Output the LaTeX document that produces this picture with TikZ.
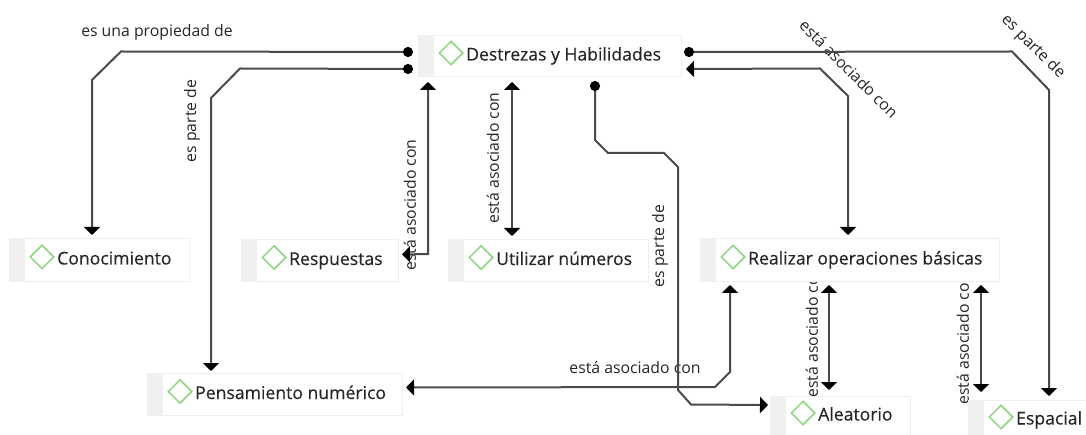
\documentclass[tikz,border=0pt]{standalone}
\usepackage{fontspec}
\setmainfont{Open Sans}
\newfontfamily\conceptfont[FakeBold=0.3]{Open Sans}
\usetikzlibrary{arrows.meta,calc,shapes.geometric}
\definecolor{conceptgreen}{HTML}{8FD47F}
\definecolor{stripgray}{HTML}{F0F0F0}
\definecolor{boxline}{HTML}{EFEFEF}
\definecolor{linkgray}{HTML}{4A4A4A}
\tikzset{
    conceptbox/.style={draw=boxline, fill=white, line width=1pt, anchor=north west, inner sep=0pt},
    conceptkite/.style={diamond, draw=conceptgreen, line width=1.5pt, minimum size=24pt, inner sep=0pt},
    conceptlabel/.style={anchor=west, inner sep=0pt, text height=12pt, text depth=4pt, text=black!85, font=\conceptfont\fontsize{17.6}{20}\selectfont},
    linklabel/.style={inner sep=0pt, text=black!85, font=\fontsize{15.8}{18}\selectfont},
    twoway/.style={draw=linkgray, line width=2pt, {Triangle[width=16pt,length=8pt,color=black]}-{Triangle[width=16pt,length=8pt,color=black]}},
    oneway/.style={draw=linkgray, line width=2pt, {Circle[length=10pt,color=black]}-{Triangle[width=16pt,length=8pt,color=black]}}
}
\begin{document}
\begin{tikzpicture}[x=1pt, y=-1pt]
    \useasboundingbox (0, 0) rectangle (1086, 435);
    % link labels go first, the boxes cover their ends
    \node [linklabel] (lblconocimiento) at (157, 32) {es una propiedad de};
    \node [linklabel, rotate=90] (lblpensamiento) at (192, 121) {es parte de};
    \node [linklabel, rotate=90] (lblrespuestas) at (410, 205) {está asociado con};
    \node [linklabel, rotate=90] (lblutilizar) at (493, 158) {está asociado con};
    \node [linklabel, rotate=90] (lblaleatorio) at (660, 246) {es parte de};
    \node [linklabel, rotate=-45] (lblrealizar) at (849, 69) {está asociado con};
    \node [linklabel, rotate=-45] (lblespacial) at (1033, 47) {es parte de};
    \node [linklabel] (lblnumerico) at (635, 368) {está asociado con};
    \node [linklabel, rotate=90] (lblaleatorioreal) at (812, 332) {está asociado con};
    \node [linklabel, rotate=90] (lblespacialreal) at (963, 339) {está asociado con};
    % boxes
    \foreach \name/\x/\y/\w/\h/\txt in {
        destrezas/418/35/263/41/Destrezas y Habilidades,
        conocimiento/9/238/180/43/Conocimiento,
        respuestas/241/239/157/42/Respuestas,
        utilizar/448/239/200/42/Utilizar números,
        realizar/700/238/299/43/Realizar operaciones básicas,
        pensamiento/147/373/255/42/Pensamiento numérico,
        aleatorio/770/396/140/39/Aleatorio,
        espacial/968/400/118/39/Espacial}{
            \node [conceptbox, minimum width=\w, minimum height=\h] (\name) at (\x, \y) {};
            \fill [stripgray] (\x, \y) rectangle (\x+16, \y+\h);
            \node [conceptkite] (\name kite) at ($(\name.west)+(33, -3)$) {};
            \node [conceptlabel] (\name text) at ($(\name.west)+(48, 0.5)$) {\txt};
        }
    % connectors
    \draw [oneway] ($(destrezas.west)+(-5, -4)$) -- (121, 51.5) -- (92, 80) -- ($(conocimiento.north west)+(83, -3)$);
    \draw [oneway] ($(destrezas.west)+(-5, 13)$) -- (240, 68.5) -- (211, 98) -- ($(pensamiento.north west)+(64, -2)$);
    \draw [twoway] ($(destrezas.south west)+(10, 5)$) -- (428, 254) -- ($(respuestas.east)+(3, -6)$);
    \draw [twoway] ($(destrezas.south west)+(94, 5)$) -- ($(utilizar.north west)+(64, -3)$);
    \draw [oneway] ($(destrezas.south west)+(177, 4)$) -- (595, 140) -- (608, 153) -- (664, 153) -- (678, 167) -- (678, 390) -- (691, 404.5) -- ($(aleatorio.west)+(-2, -11)$);
    \draw [oneway] ($(destrezas.east)+(2, -4)$) -- (1012, 51.5) -- (1049, 90) -- ($(espacial.north west)+(81, -4)$);
    \draw [twoway] ($(destrezas.east)+(4, 13)$) -- (820, 68.5) -- (848, 96) -- ($(realizar.north west)+(148, -3)$);
    \draw [twoway] ($(pensamiento.east)+(3, -7)$) -- (715, 387) -- (730, 372) -- ($(realizar.south west)+(30, 3)$);
    \draw [twoway] ($(realizar.south west)+(129, 3)$) -- ($(aleatorio.north west)+(59, -6)$);
    \draw [twoway] ($(realizar.south west)+(281, 3)$) -- ($(espacial.north west)+(13, -8)$);
\end{tikzpicture}
\end{document}
